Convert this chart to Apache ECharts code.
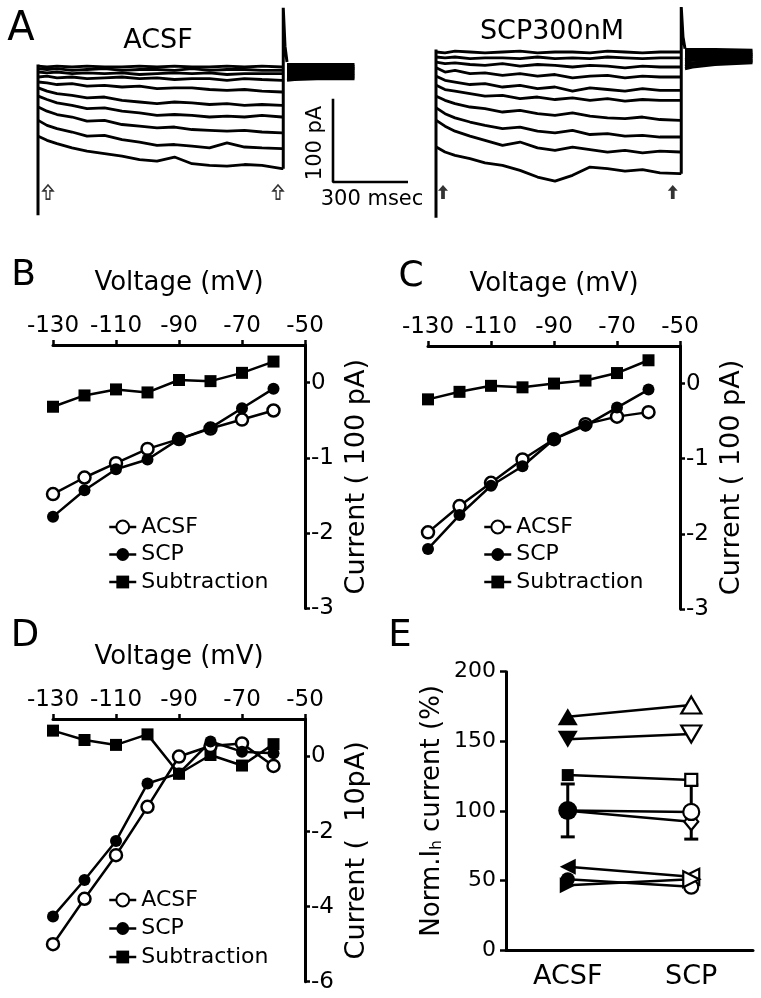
<!DOCTYPE html>
<html><head><meta charset="utf-8">
<script src="https://cdn.jsdelivr.net/npm/echarts@6/dist/echarts.min.js"></script>
<style>html,body{margin:0;padding:0;background:#fff}#c{width:761px;height:998px}</style>
</head><body><div id="c"></div>
<script>
const FONT = '"DejaVu Sans", sans-serif';

// ---------- Panel A: current traces (time in ms, current in pA) ----------
const traceTimes = [5, 40, 80, 140, 200, 270, 340, 410, 480, 550, 620, 690, 760, 830, 900, 980];
const stepEnd = 985;
const tailTimes = [1000, 1030, 1120, 1270];
const acsfTraces = [
  [1, 0, 1, 0, 1, 0, 0, 1, 0, 1, 0, 0, 1, 0, 1, 0],
  [-2, -3, -2, -4, -3, -2, -4, -3, -3, -4, -2, -4, -3, -3, -4, -4],
  [-6, -7, -6, -8, -7, -8, -7, -9, -8, -7, -8, -7, -9, -8, -8, -8],
  [-12, -11, -13, -12, -14, -13, -12, -14, -13, -15, -14, -14, -16, -14, -15, -16],
  [-18, -19, -21, -20, -23, -22, -24, -23, -26, -25, -25, -27, -28, -27, -29, -30],
  [-25, -29, -32, -34, -37, -36, -40, -42, -44, -42, -43, -45, -44, -46, -45, -46],
  [-35, -39, -43, -46, -50, -49, -53, -55, -58, -57, -58, -60, -59, -60, -58, -60],
  [-48, -53, -57, -60, -65, -64, -69, -71, -73, -72, -75, -76, -77, -76, -78, -79],
  [-64, -70, -74, -78, -83, -82, -87, -90, -94, -93, -95, -97, -91, -96, -97, -98],
  [-83, -88, -92, -97, -101, -104, -107, -111, -113, -108, -116, -118, -119, -117, -118, -122]
];
const acsfTails = [
  [3, 3, 3, 3], [1, 1, 1, 1], [-1, -1, -1, -1], [-3, -3, -3, -2], [-5, -5, -5, -4],
  [-7, -7, -6, -6], [-9, -9, -8, -8], [-11, -11, -10, -10], [-13, -13, -12, -12], [-16, -15, -14, -14]
];
const scpTraces = [
  [0, -1, 1, 0, -1, 0, 1, -1, 0, 0, -1, 1, 0, -1, 0, 0],
  [-6, -7, -6, -8, -7, -7, -8, -6, -8, -7, -8, -6, -7, -8, -7, -7],
  [-12, -14, -13, -15, -16, -14, -17, -15, -16, -18, -16, -17, -19, -17, -18, -18],
  [-19, -24, -22, -26, -25, -28, -26, -29, -27, -31, -29, -28, -31, -29, -30, -30],
  [-29, -34, -36, -39, -38, -42, -40, -44, -42, -47, -43, -45, -47, -44, -46, -46],
  [-40, -45, -47, -50, -53, -52, -56, -54, -57, -55, -58, -56, -59, -57, -58, -58],
  [-53, -58, -62, -66, -68, -72, -70, -74, -76, -73, -77, -79, -80, -78, -81, -82],
  [-67, -74, -79, -84, -88, -92, -90, -95, -97, -94, -99, -98, -101, -100, -102, -102],
  [-82, -89, -95, -101, -106, -112, -108, -115, -118, -114, -117, -120, -118, -121, -119, -120],
  [-114, -120, -124, -128, -133, -136, -142, -150, -155, -148, -138, -140, -143, -141, -145, -146]
];
const scpTails = [
  [3, 3, 3, 2], [1, 1, 1, 0], [-1, -1, -1, -2], [-4, -4, -3, -3], [-6, -6, -5, -5],
  [-9, -8, -7, -6], [-11, -10, -9, -8], [-14, -13, -11, -10], [-17, -15, -13, -11], [-20, -18, -15, -13]
];
const acsfOnTransient = [[4, 3], [4, -178]];
const scpOnTransient = [[4, 3], [4, -199]];
const acsfOffTransient = [[985, -122], [985, 71], [992, 25], [1000, 6]];
const scpOffTransient = [[985, -146], [985, 54], [992, 18], [1000, 4]];
const acsfArrows = [[44, -150], [964, -150]];
const scpArrows = [[32, -168], [951, -168]];
const scaleBar = [[1184, -38], [1184, -138], [1484, -138]];

// ---------- Panels B, C, D: I-V curves ----------
const voltages = [-130, -120, -110, -100, -90, -80, -70, -60];
const bACSF = [-1.48, -1.26, -1.07, -0.88, -0.75, -0.61, -0.49, -0.37];
const bSCP = [-1.78, -1.43, -1.15, -1.02, -0.75, -0.60, -0.34, -0.08];
const bSub = [-0.32, -0.17, -0.09, -0.13, 0.035, 0.02, 0.13, 0.28];
const cACSF = [-1.98, -1.63, -1.32, -1.01, -0.74, -0.54, -0.44, -0.38];
const cSCP = [-2.20, -1.75, -1.36, -1.10, -0.74, -0.56, -0.32, -0.08];
const cSub = [-0.21, -0.11, -0.03, -0.05, 0.0, 0.04, 0.14, 0.31];
const dACSF = [-5.00, -3.79, -2.63, -1.34, 0.0, 0.28, 0.35, -0.25];
const dSCP = [-4.26, -3.29, -2.25, -0.72, -0.45, 0.40, 0.13, 0.09];
const dSub = [0.69, 0.44, 0.31, 0.59, -0.46, 0.04, -0.24, 0.33];

// ---------- Panel E: normalized Ih ----------
const eCats = ['ACSF', 'SCP'];
const eTriUp = [167.7, 176];
const eTriDown = [151.4, 155.2];
const eSquare = [125.7, 122.2];
const eDiamond = [100, 92.2];
const eTriLeft = [59.9, 52.7];
const eCircle = [50.8, 45.5];
const eTriRight = [46.5, 50.8];
const eMean = [100.3, 99.2];
const eSem = [19, 19.5];

const BLACK = '#000';
const series = [];

function addTraces(traces, tails, onT, offT, arrows, gi, openArrow) {
  traces.forEach((tr, k) => {
    const d = traceTimes.map((t, i) => [t, tr[i]]);
    d.push([stepEnd, tr[tr.length - 1]]);
    series.push({ type: 'line', xAxisIndex: gi, yAxisIndex: gi, data: d, showSymbol: false, symbol: 'none',
      lineStyle: { color: BLACK, width: 2.8 }, silent: true, clip: false });
    series.push({ type: 'line', xAxisIndex: gi, yAxisIndex: gi, data: tailTimes.map((t, i) => [t, tails[k][i]]),
      showSymbol: false, symbol: 'none', lineStyle: { color: BLACK, width: 3 }, silent: true, clip: false });
  });
  [onT, offT].forEach(tt => series.push({ type: 'line', xAxisIndex: gi, yAxisIndex: gi, data: tt, showSymbol: false,
    symbol: 'none', lineStyle: { color: BLACK, width: 3 }, silent: true, clip: false }));
  series.push({ type: 'scatter', xAxisIndex: gi, yAxisIndex: gi, data: arrows,
    symbol: 'path://M4,0 L8,5 L5.5,5 L5.5,12 L2.5,12 L2.5,5 L0,5 Z', symbolSize: [10, 14], symbolKeepAspect: false,
    itemStyle: openArrow ? { color: '#fff', borderColor: BLACK, borderWidth: 1.5 } : { color: BLACK },
    silent: true, z: 5 });
}
addTraces(acsfTraces, acsfTails, acsfOnTransient, acsfOffTransient, acsfArrows, 0, true);
addTraces(scpTraces, scpTails, scpOnTransient, scpOffTransient, scpArrows, 1, false);
series.push({ type: 'line', xAxisIndex: 0, yAxisIndex: 0, data: scaleBar, showSymbol: false, symbol: 'none',
  lineStyle: { color: BLACK, width: 2.6 }, silent: true, clip: false });

const openCircle = { color: '#fff', borderColor: BLACK, borderWidth: 2.5 };
const filled = { color: BLACK, borderColor: BLACK, borderWidth: 0 };
function addIV(acsf, scp, sub, gi) {
  const mk = arr => voltages.map((v, i) => [v, arr[i]]);
  series.push({ type: 'line', name: 'Subtraction', xAxisIndex: gi, yAxisIndex: gi, data: mk(sub), symbol: 'rect', symbolSize: 12,
    itemStyle: filled, lineStyle: { color: BLACK, width: 2.5 }, clip: false,
    markLine: { silent: true, symbol: ['none', 'none'], label: { show: false }, animation: false,
      lineStyle: { color: BLACK, type: [3, 2], width: 1.2 },
      data: [[{ coord: [-132.5, 0] }, { coord: [-50, 0] }]] } });
  series.push({ type: 'line', name: 'ACSF', xAxisIndex: gi, yAxisIndex: gi, data: mk(acsf), symbol: 'circle', symbolSize: 12,
    itemStyle: openCircle, lineStyle: { color: BLACK, width: 2.5 }, clip: false });
  series.push({ type: 'line', name: 'SCP', xAxisIndex: gi, yAxisIndex: gi, data: mk(scp), symbol: 'circle', symbolSize: 12,
    itemStyle: filled, lineStyle: { color: BLACK, width: 2.5 }, clip: false });
}
addIV(bACSF, bSCP, bSub, 2);
addIV(cACSF, cSCP, cSub, 3);
addIV(dACSF, dSCP, dSub, 4);

const openE = { color: '#fff', borderColor: BLACK, borderWidth: 2.2 };
function addPair(name, vals, symbol, size, rot) {
  series.push({ type: 'line', name: name, xAxisIndex: 5, yAxisIndex: 5, symbol: symbol, symbolSize: size, symbolRotate: rot,
    data: [{ value: vals[0], itemStyle: filled }, { value: vals[1], itemStyle: openE }],
    lineStyle: { color: BLACK, width: 2.5 }, clip: false });
}
series.push({ type: 'custom', name: 'sem', xAxisIndex: 5, yAxisIndex: 5, z: 1,
  data: eMean.map((m, i) => [i, m - eSem[i], m + eSem[i]]),
  renderItem: function (params, api) {
    const lo = api.coord([api.value(0), api.value(1)]);
    const hi = api.coord([api.value(0), api.value(2)]);
    const w = 7, st = { stroke: BLACK, lineWidth: 3 };
    return { type: 'group', children: [
      { type: 'line', shape: { x1: lo[0], y1: lo[1], x2: hi[0], y2: hi[1] }, style: st },
      { type: 'line', shape: { x1: lo[0] - w, y1: lo[1], x2: lo[0] + w, y2: lo[1] }, style: st },
      { type: 'line', shape: { x1: hi[0] - w, y1: hi[1], x2: hi[0] + w, y2: hi[1] }, style: st }
    ] };
  } });
addPair('e1', eTriUp, 'triangle', [20, 17], 0);
addPair('e2', eTriDown, 'triangle', [20, 17], 180);
addPair('e3', eSquare, 'rect', 12, 0);
addPair('e4', eDiamond, 'diamond', [14, 17], 0);
addPair('e5', eTriLeft, 'triangle', [16, 16], 90);
addPair('e6', eCircle, 'circle', 14, 0);
addPair('e7', eTriRight, 'triangle', [16, 16], -90);
series.push({ type: 'line', name: 'mean', xAxisIndex: 5, yAxisIndex: 5, symbol: 'circle',
  data: [{ value: eMean[0], itemStyle: filled, symbolSize: 19 }, { value: eMean[1], itemStyle: openE, symbolSize: 16 }],
  lineStyle: { color: BLACK, width: 2.5 }, clip: false, z: 3 });

const tickTxt = { color: BLACK, fontFamily: FONT };
function ivX(gi) {
  return { type: 'value', gridIndex: gi, min: -130, max: -50, interval: 20, position: 'top',
    axisLine: { onZero: false, lineStyle: { color: BLACK, width: 3 } },
    axisTick: { show: true, length: 5, lineStyle: { color: BLACK, width: 2.5 } },
    axisLabel: Object.assign({ fontSize: 23, margin: 7 }, tickTxt), splitLine: { show: false },
    name: 'Voltage (mV)', nameLocation: 'middle', nameGap: 49, nameMoveOverlap: false,
    nameTextStyle: { fontSize: 26, color: BLACK, fontFamily: FONT } };
}
function ivY(gi, min, max, interval, name) {
  return { type: 'value', gridIndex: gi, min: min, max: max, interval: interval, position: 'right',
    axisLine: { show: true, onZero: false, lineStyle: { color: BLACK, width: 3 } },
    axisTick: { show: true, length: 5, lineStyle: { color: BLACK, width: 2.5 } },
    axisLabel: Object.assign({ fontSize: 23, margin: 6, showMaxLabel: false }, tickTxt), splitLine: { show: false },
    name: name, nameLocation: 'middle', nameRotate: 90, nameGap: 38, nameMoveOverlap: false,
    nameTextStyle: { fontSize: 27, color: BLACK, fontFamily: FONT } };
}
function legendAt(left, top, gap) {
  return { data: ['ACSF', 'SCP', 'Subtraction'], orient: 'vertical', left: left, top: top, padding: 0,
    itemWidth: 27, itemHeight: 16, itemGap: gap, itemTextGap: 10, selectedMode: false,
    lineStyle: { width: 2.5, color: BLACK },
    textStyle: { fontSize: 22, lineHeight: 22, color: BLACK, fontFamily: FONT } };
}
function txt(text, x, y, size, extra) {
  return Object.assign({ type: 'text', x: x, y: y, silent: true,
    style: { text: text, fill: BLACK, font: size + 'px ' + FONT, align: 'center', verticalAlign: 'middle' } }, extra || {});
}

const option = {
  animation: false,
  backgroundColor: '#fff',
  grid: [
    { left: 37, top: 0.33, width: 375, height: 216.7, outerBoundsMode: 'none' },
    { left: 435, top: 2, width: 325, height: 216.7, outerBoundsMode: 'none' },
    { left: 53, top: 345, width: 252, height: 263.5, outerBoundsMode: 'none' },
    { left: 428, top: 346, width: 252, height: 263, outerBoundsMode: 'none' },
    { left: 53, top: 719, width: 252, height: 262.7, outerBoundsMode: 'none' },
    { left: 506, top: 671.7, width: 247, height: 278.3, outerBoundsMode: 'none' }
  ],
  xAxis: [
    { type: 'value', gridIndex: 0, min: 0, max: 1500, show: false },
    { type: 'value', gridIndex: 1, min: 0, max: 1300, show: false },
    ivX(2), ivX(3), ivX(4),
    { type: 'category', gridIndex: 5, data: eCats, boundaryGap: true,
      axisLine: { lineStyle: { color: BLACK, width: 3 } }, axisTick: { show: false },
      axisLabel: Object.assign({ fontSize: 27, margin: 13 }, tickTxt), splitLine: { show: false } }
  ],
  yAxis: [
    { type: 'value', gridIndex: 0, min: -180, max: 80, show: false },
    { type: 'value', gridIndex: 1, min: -200, max: 60, show: false },
    ivY(2, -3, 0.5, 1, 'Current ( 100 pA)'),
    ivY(3, -3, 0.5, 1, 'Current ( 100 pA)'),
    ivY(4, -6, 1, 2, 'Current (  10pA)'),
    { type: 'value', gridIndex: 5, min: 0, max: 200, interval: 50, position: 'left',
      axisLine: { show: true, onZero: false, lineStyle: { color: BLACK, width: 3 } },
      axisTick: { show: true, length: 6, lineStyle: { color: BLACK, width: 2.5 } },
      axisLabel: Object.assign({ fontSize: 22, margin: 10 }, tickTxt), splitLine: { show: false },
      name: 'Norm.I{s|h} current (%)', nameLocation: 'middle', nameRotate: 90, nameGap: 61, nameMoveOverlap: false,
      nameTextStyle: { fontSize: 26, color: BLACK, fontFamily: FONT,
        rich: { s: { fontSize: 15, color: BLACK, fontFamily: FONT, padding: [10, 0, 0, 0] } } } }
  ],
  legend: [legendAt(108, 516, 5.5), legendAt(483, 516, 5.5), legendAt(108, 889, 6.5)],
  graphic: [
    txt('A', 21, 30, 40), txt('B', 23.5, 276, 36), txt('C', 411, 277, 36),
    txt('D', 25, 636, 37), txt('E', 400, 636, 37),
    txt('ACSF', 158, 41, 27), txt('SCP300nM', 552, 32, 27),
    txt('100 pA', 316, 143, 21, { rotation: Math.PI / 2 }),
    txt('300 msec', 372, 200, 21)
  ],
  series: series
};
const chart = echarts.init(document.getElementById('c'), null, { renderer: 'canvas' });
chart.setOption(option);
</script></body></html>
